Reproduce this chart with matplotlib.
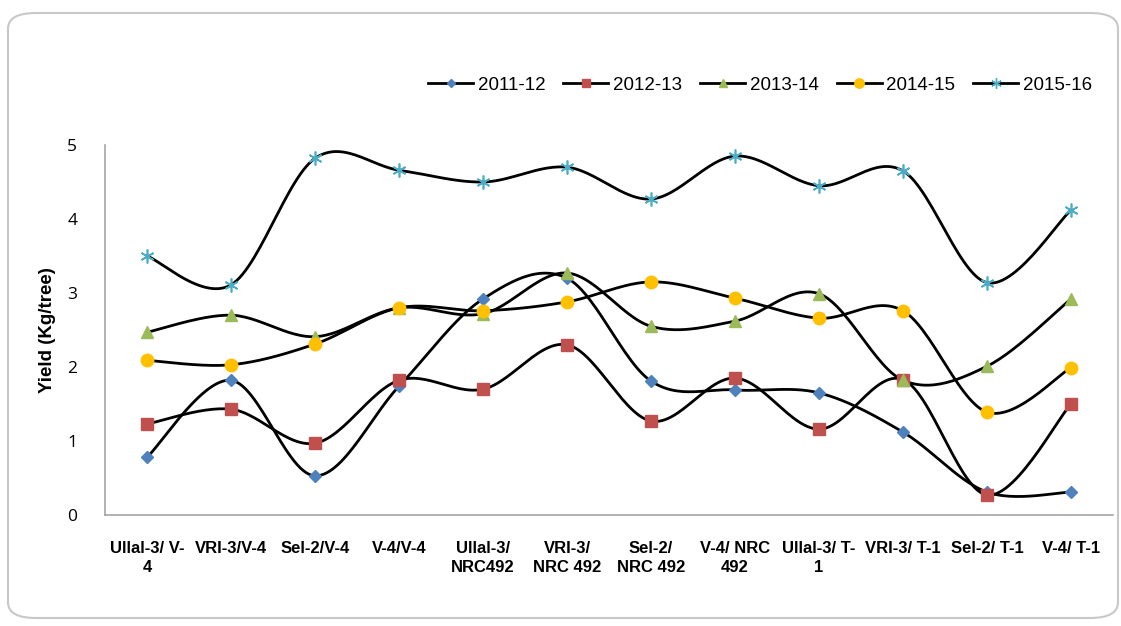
import numpy as np
import matplotlib
matplotlib.use("Agg")
import matplotlib.pyplot as plt
from matplotlib.patches import FancyBboxPatch
from matplotlib.lines import Line2D

categories = ["Ullal-3/ V-\n4", "VRI-3/V-4", "Sel-2/V-4", "V-4/V-4", "Ullal-3/\nNRC492",
              "VRI-3/\nNRC 492", "Sel-2/\nNRC 492", "V-4/ NRC\n492", "Ullal-3/ T-\n1",
              "VRI-3/ T-1", "Sel-2/ T-1", "V-4/ T-1"]
y2011 = [0.78, 1.82, 0.53, 1.74, 2.92, 3.20, 1.81, 1.69, 1.65, 1.12, 0.31, 0.31]
y2012 = [1.23, 1.43, 0.97, 1.82, 1.70, 2.30, 1.27, 1.85, 1.16, 1.83, 0.27, 1.50]
y2013 = [2.47, 2.70, 2.41, 2.80, 2.72, 3.27, 2.55, 2.62, 2.99, 1.82, 2.01, 2.92]
y2014 = [2.09, 2.03, 2.31, 2.80, 2.76, 2.88, 3.15, 2.93, 2.66, 2.76, 1.39, 1.99]
y2015 = [3.50, 3.11, 4.82, 4.66, 4.50, 4.70, 4.27, 4.85, 4.45, 4.65, 3.14, 4.12]
series_names = ["2011-12", "2012-13", "2013-14", "2014-15", "2015-16"]


def smooth(x, y, n=30):
    x = np.asarray(x, float); y = np.asarray(y, float)
    P = np.column_stack([x, y])
    out = []
    for i in range(len(P) - 1):
        p0 = P[i - 1] if i > 0 else P[i]
        p1 = P[i]; p2 = P[i + 1]
        p3 = P[i + 2] if i + 2 < len(P) else P[i + 1]
        c1 = p1 + (p2 - p0) / 6.0
        c2 = p2 - (p3 - p1) / 6.0
        t = np.linspace(0, 1, n)[:, None]
        seg = ((1 - t) ** 3) * p1 + 3 * ((1 - t) ** 2) * t * c1 + 3 * (1 - t) * t ** 2 * c2 + t ** 3 * p2
        out.append(seg if i == 0 else seg[1:])
    out = np.vstack(out)
    return out[:, 0], out[:, 1]


fig = plt.figure(figsize=(11.21, 6.26), dpi=100)
fig.patches.append(FancyBboxPatch((8 / 1121, 8 / 626), 1110 / 1121, 605 / 626,
                                  boxstyle="round,pad=0,rounding_size=0.025",
                                  transform=fig.transFigure, fill=False,
                                  edgecolor="#c8c8c8", linewidth=1.5))
ax = fig.add_axes([105 / 1121, 1 - 515 / 626, (1113 - 105) / 1121, (515 - 145) / 626])

x = np.arange(len(categories))
styles = [
    (y2011, "D", "#4F81BD", 6),
    (y2012, "s", "#C0504D", 8.5),
    (y2013, "^", "#9BBB59", 8.5),
    (y2014, "o", "#FFC000", 9),
    (y2015, (6, 2, 0), "#4BACC6", 10),
]
handles = []
for (yy, mk, col, ms), name in zip(styles, series_names):
    sx, sy = smooth(x, yy)
    ax.plot(sx, sy, color="black", lw=2.0, solid_capstyle="round", zorder=2)
    ax.plot(x, yy, linestyle="none", marker=mk, color=col, markersize=ms,
            markeredgecolor=col, markeredgewidth=1.0 if mk != (6, 2, 0) else 1.2, zorder=3)
    handles.append(Line2D([0], [0], color="black", lw=2.0, marker=mk, markerfacecolor=col,
                          markeredgecolor=col, markersize=ms * 0.75))

ax.set_xlim(-0.5, len(categories) - 0.5)
ax.set_ylim(0, 5)
ax.set_yticks([0, 1, 2, 3, 4, 5])
ax.set_xticks(x)
ax.set_xticklabels(categories, fontsize=12, fontweight="bold", family="Liberation Sans",
                   linespacing=1.3)
ax.tick_params(axis="both", length=0)
ax.tick_params(axis="x", pad=19)
ax.tick_params(axis="y", pad=20, labelsize=12.5)
for lab in ax.get_yticklabels():
    lab.set_family("Open Sans")
for s in ["top", "right"]:
    ax.spines[s].set_visible(False)
for s in ["left", "bottom"]:
    ax.spines[s].set_color("#a6a6a6")
    ax.spines[s].set_linewidth(1.2)
ax.set_ylabel("Yield (Kg/tree)", fontsize=13.5, fontweight="bold", family="Liberation Sans", labelpad=8)

fig.legend(handles, series_names, loc="center left", bbox_to_anchor=(428 / 1121, 1 - 85 / 626),
           ncol=5, frameon=False, handlelength=2.4, columnspacing=0.95, handletextpad=0.26,
           borderaxespad=0, borderpad=0,
           prop={"family": "Liberation Sans", "size": 13.5})

fig.savefig("out.png", dpi=100)
